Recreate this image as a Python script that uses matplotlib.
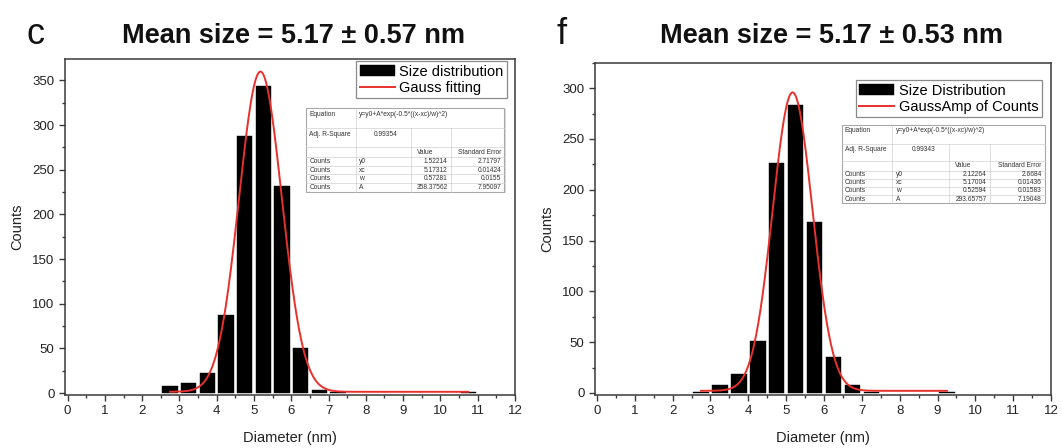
import numpy as np
import matplotlib
matplotlib.use("Agg")
import matplotlib.pyplot as plt
from matplotlib.ticker import MultipleLocator

plt.rcParams['font.family'] = ['Liberation Sans', 'DejaVu Sans']

# ---------------- data ----------------
centers_c = [2.75, 3.25, 3.75, 4.25, 4.75, 5.25, 5.75, 6.25, 6.75, 7.25, 10.75]
counts_c = [8, 11, 23, 88, 288, 344, 232, 50, 3, 1, 1]
centers_f = [2.75, 3.25, 3.75, 4.25, 4.75, 5.25, 5.75, 6.25, 6.75, 7.25, 9.25]
counts_f = [1, 7.5, 19, 51, 226, 283, 168, 35, 7.5, 1, 1]

# Gauss fit parameters (y0, xc, w, A) and fitted x-range
fit_c = [1.52214, 5.17312, 0.57281, 358.37562]
err_c = ["2.71797", "0.01424", "0.0155", "7.95097"]
val_c = ["1.52214", "5.17312", "0.57281", "358.37562"]
r2_c = "0.99354"
range_c = [2.75, 10.75]

fit_f = [2.12264, 5.17004, 0.52594, 293.65757]
err_f = ["2.6684", "0.01436", "0.01583", "7.19048"]
val_f = ["2.12264", "5.17004", "0.52594", "293.65757"]
r2_f = "0.99343"
range_f = [2.75, 9.25]

param_names = ["y0", "xc", "w", "A"]
equation = "y=y0+A*exp(-0.5*((x-xc)/w)^2)"

titles = ["Mean size = 5.17 \u00b1 0.57 nm", "Mean size = 5.17 \u00b1 0.53 nm"]
letters = ["c", "f"]
legend_bar = ["Size distribution", "Size Distribution"]
legend_line = ["Gauss fitting", "GaussAmp of Counts"]
xticks = list(range(0, 13))

RED = '#e8302c'
SPINE = '#3a3a3a'


def gauss(x, p):
    y0, xc, w, A = p
    return y0 + A * np.exp(-0.5 * ((x - xc) / w) ** 2)


def draw_table(ax, bounds, vals, errs, r2):
    t = ax.inset_axes(bounds)
    t.set_xlim(0, 1)
    t.set_ylim(0, 1)
    t.axis('off')
    t.add_patch(plt.Rectangle((0.008, -0.015), 1, 1, facecolor='#dcdcdc',
                              edgecolor='none', zorder=0, clip_on=False))
    t.add_patch(plt.Rectangle((0, 0), 1, 1, facecolor='white',
                              edgecolor='#a8a8a8', lw=0.8, zorder=1, clip_on=False))
    cols = [0, 0.25, 0.53, 0.73, 1.0]
    rows = [1.0, 0.762, 0.536, 0.417, 0.313, 0.209, 0.104, 0.0]
    gc = '#d0d0d0'
    for yb in rows[1:-1]:
        t.plot([0, 1], [yb, yb], color=gc, lw=0.5, zorder=2, clip_on=False)
    t.plot([cols[1]] * 2, [0, 1], color=gc, lw=0.5, zorder=2, clip_on=False)
    for c in cols[2:4]:
        t.plot([c, c], [0, rows[1]], color=gc, lw=0.5, zorder=2, clip_on=False)
    fs = 4.8
    tc = '#333333'
    pad = 0.015
    t.text(pad, rows[0] - 0.03, "Equation", fontsize=fs, color=tc, va='top', zorder=3)
    t.text(cols[1] + pad, rows[0] - 0.03, equation, fontsize=fs, color=tc, va='top', zorder=3)
    t.text(pad, rows[1] - 0.03, "Adj. R-Square", fontsize=fs, color=tc, va='top', zorder=3)
    t.text(cols[2] - 0.07, rows[1] - 0.03, r2, fontsize=fs, color=tc, va='top', ha='right', zorder=3)
    ym = (rows[2] + rows[3]) / 2
    t.text(cols[2] + 0.03, ym, "Value", fontsize=fs, color=tc, va='center', zorder=3)
    t.text(cols[4] - pad, ym, "Standard Error", fontsize=fs, color=tc, va='center', ha='right', zorder=3)
    for i in range(4):
        ym = (rows[3 + i] + rows[4 + i]) / 2
        t.text(pad, ym, "Counts", fontsize=fs, color=tc, va='center', zorder=3)
        t.text(cols[1] + pad, ym, param_names[i], fontsize=fs, color=tc, va='center', zorder=3)
        t.text(cols[3] - pad, ym, vals[i], fontsize=fs, color=tc, va='center', ha='right', zorder=3)
        t.text(cols[4] - pad, ym, errs[i], fontsize=fs, color=tc, va='center', ha='right', zorder=3)


fig = plt.figure(figsize=(10.62, 4.48), dpi=100)
ax1 = fig.add_axes([0.0612, 0.1194, 0.4237, 0.7489])
ax2 = fig.add_axes([0.5603, 0.1194, 0.4294, 0.7406])

panels = [
    (ax1, centers_c, counts_c, fit_c, range_c, (-0.07, 12.0), (-1.5, 374), 350,
     (0.982, 0.994), [0.536, 0.6036, 0.44, 0.25], val_c, err_c, r2_c),
    (ax2, centers_f, counts_f, fit_f, range_f, (-0.05, 12.0), (-1.5, 325), 300,
     (0.98, 0.948), [0.541, 0.577, 0.445, 0.235], val_f, err_f, r2_f),
]

for k, (ax, cx, cy, p, rng, xl, yl, ymax, lanchor, tb, vals, errs, r2) in enumerate(panels):
    bars = ax.bar(cx, cy, width=0.41, color='black', edgecolor='black', lw=0.3, zorder=2)
    xs = np.linspace(rng[0], rng[1], 600)
    line, = ax.plot(xs, gauss(xs, p), color=RED, lw=1.4, zorder=3)
    ax.set_xlim(*xl)
    ax.set_ylim(*yl)
    ax.set_xticks(xticks)
    ax.xaxis.set_minor_locator(MultipleLocator(0.5))
    ax.set_yticks(np.arange(0, ymax + 1, 50))
    ax.yaxis.set_minor_locator(MultipleLocator(25))
    ax.tick_params(which='both', direction='out', colors=SPINE, labelcolor='#222222',
                   labelsize=9.5, width=1.0)
    ax.tick_params(which='major', length=4.5, pad=3)
    ax.tick_params(which='minor', length=2.5)
    for s in ax.spines.values():
        s.set_color(SPINE)
        s.set_linewidth(1.1)
    ax.set_xlabel("Diameter (nm)", fontsize=10.5, labelpad=10, color='#222222')
    ax.set_ylabel("Counts", fontsize=10.5, labelpad=6, color='#222222')
    leg = ax.legend([bars, line], [legend_bar[k], legend_line[k]], loc='upper right',
                    bbox_to_anchor=lanchor, fontsize=10.5, frameon=True, fancybox=False,
                    edgecolor='#8a8a8a', framealpha=1, borderpad=0.25, labelspacing=0.15,
                    handlelength=2.4, handletextpad=0.3, borderaxespad=0.0, handleheight=0.75)
    leg.get_frame().set_linewidth(0.9)
    draw_table(ax, tb, vals, errs, r2)

# titles and panel letters
fig.text(293 / 1062, 1 - 43 / 448, titles[0], fontsize=19.5, fontweight='bold',
         ha='center', va='baseline', color='#111111')
fig.text(832 / 1062, 1 - 43 / 448, titles[1], fontsize=19.5, fontweight='bold',
         ha='center', va='baseline', color='#111111')
fig.text(36 / 1062, 1 - 44 / 448, letters[0], fontsize=26, ha='center', va='baseline',
         color='#111111')
fig.text(562 / 1062, 1 - 44 / 448, letters[1], fontsize=26, ha='center', va='baseline',
         color='#111111')

fig.savefig("out.png", dpi=100)
